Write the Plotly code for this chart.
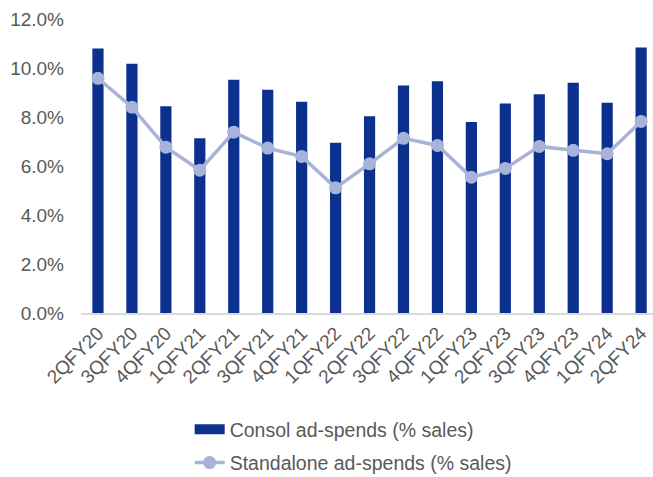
import plotly.graph_objects as go

quarters = ["2QFY20", "3QFY20", "4QFY20", "1QFY21", "2QFY21", "3QFY21", "4QFY21",
            "1QFY22", "2QFY22", "3QFY22", "4QFY22", "1QFY23", "2QFY23", "3QFY23",
            "4QFY23", "1QFY24", "2QFY24"]
consol = [10.80, 10.17, 8.44, 7.13, 9.52, 9.11, 8.62, 6.95, 8.03, 9.29, 9.46,
          7.80, 8.55, 8.93, 9.40, 8.58, 10.84]
standalone = [9.58, 8.40, 6.77, 5.83, 7.38, 6.73, 6.39, 5.11, 6.09, 7.13, 6.84,
              5.54, 5.90, 6.80, 6.64, 6.50, 7.82]
y_ticks = [0, 2, 4, 6, 8, 10, 12]

font = "Liberation Sans, Arial, sans-serif"
grey = "#595959"
bar_color = "#0B308E"
line_color = "#A7B3D9"

fig = go.Figure()
fig.add_trace(go.Bar(
    x=list(range(len(quarters))), y=consol, name="Consol ad-spends (% sales)",
    marker=dict(color=bar_color, line=dict(width=0)), width=0.33,
    showlegend=False,
))
# legend entry drawn as a wide flat bar symbol
fig.add_trace(go.Scatter(
    x=[None], y=[None], name="Consol ad-spends (% sales)", mode="lines",
    line=dict(color=bar_color, width=10), legendgroup="a",
))
fig.add_trace(go.Scatter(
    x=list(range(len(quarters))), y=standalone, name="Standalone ad-spends (% sales)",
    mode="lines+markers", line=dict(color=line_color, width=3.5),
    marker=dict(color=line_color, size=13), legendgroup="b",
))

fig.update_layout(
    width=653, height=477,
    margin=dict(l=81, r=0, t=19, b=163.5, autoexpand=False),
    plot_bgcolor="white", paper_bgcolor="white",
    font=dict(family=font, size=19, color=grey),
    showlegend=True,
    legend=dict(x=0.19, y=-0.33, xanchor="left", yanchor="top",
                orientation="v", font=dict(size=19.5, color=grey),
                tracegroupgap=5, bgcolor="rgba(0,0,0,0)"),
    xaxis=dict(
        tickmode="array", tickvals=list(range(len(quarters))), ticktext=quarters,
        tickangle=-45, range=[-0.5, 16.35], showgrid=False,
        showline=True, linecolor="#D9D9D9", linewidth=1.5, ticks="",
        tickfont=dict(size=19, color=grey),
    ),
    yaxis=dict(
        range=[0, 12], tickvals=y_ticks,
        ticktext=[f"{v:.1f}%" for v in y_ticks],
        showgrid=False, zeroline=False, showline=False, ticks="",
        tickfont=dict(size=19, color=grey), ticklabelstandoff=16,
    ),
)

fig.write_html("out.html")
